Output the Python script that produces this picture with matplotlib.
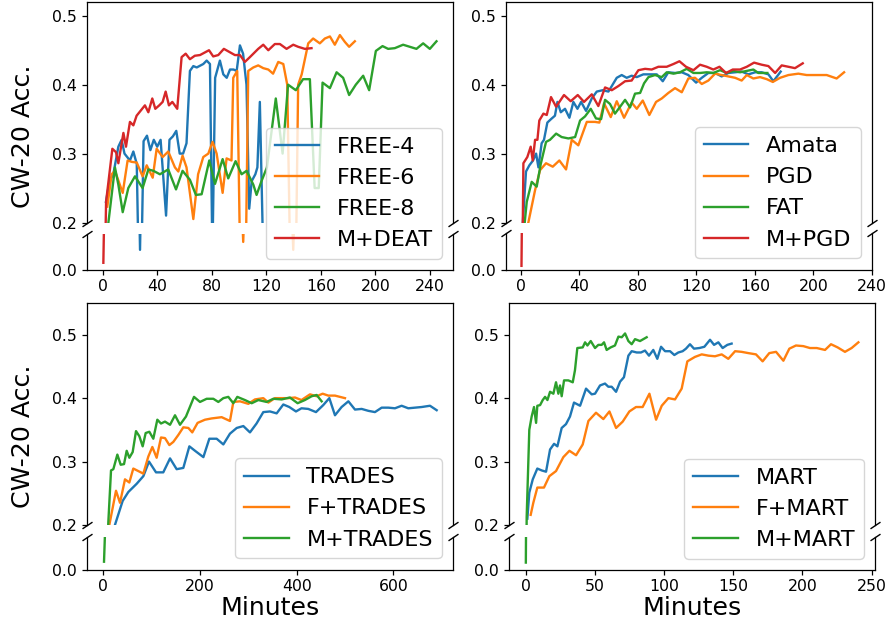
import matplotlib
matplotlib.use("Agg")
import matplotlib.pyplot as plt

# ---------------- data (minutes, CW-20 accuracy) ----------------
# Panel 1: FREE-m vs M+DEAT
free4_x = [2.4, 5, 7.8, 11.5, 13.9, 16, 18, 20, 22.5, 25, 27.4, 30, 32.5, 35, 37.5, 40, 42.5, 46.5, 49, 51.5, 54, 56.5, 59, 61.5,
           64, 66.5, 69, 73.8, 76.3, 78.7, 80.5, 82.5, 86, 88.5, 91, 93.4, 96, 98.3, 100.7, 103, 105.5, 107.5, 109.3, 112, 113.5, 115.3, 117.8]
free4_y = [0.23, 0.26, 0.27, 0.31, 0.32, 0.30, 0.295, 0.29, 0.303, 0.285, 0.028, 0.318, 0.326, 0.305, 0.32, 0.31, 0.32, 0.21, 0.32, 0.325, 0.333, 0.30, 0.30, 0.315,
           0.42, 0.427, 0.425, 0.43, 0.435, 0.43, 0.15, 0.41, 0.435, 0.415, 0.41, 0.422, 0.422, 0.42, 0.457, 0.445, 0.40, 0.22, 0.26, 0.27, 0.28, 0.375, 0.15]
free6_x = [3.4, 6.6, 9, 14.7, 18.3, 21.3, 25, 29.3, 32.3, 36.7, 39.6, 44, 48.1, 53, 55.5, 58.6, 61.5, 66.5, 70, 73.8, 77.5, 80.6, 83.6, 88, 90.9, 94.5,
           95.8, 98.7, 100.8, 103.1, 105, 106.8, 110.5, 114.1, 117.8, 121.5, 125, 128.8, 132.5, 135.4, 137.5, 139.8, 141.8, 143.4, 146,
           150.8, 154.4, 159.3, 163, 166.7, 170.3, 174, 177.7, 180.8, 185]
free6_y = [0.223, 0.27, 0.275, 0.243, 0.29, 0.288, 0.287, 0.267, 0.283, 0.265, 0.307, 0.295, 0.303, 0.28, 0.274, 0.297, 0.28, 0.205, 0.27, 0.295, 0.30, 0.317, 0.30, 0.243, 0.293, 0.29,
           0.41, 0.42, 0.15, 0.039, 0.15, 0.42, 0.425, 0.428, 0.424, 0.422, 0.416, 0.433, 0.43, 0.40, 0.15, 0.028, 0.15, 0.40, 0.415,
           0.46, 0.467, 0.46, 0.467, 0.47, 0.458, 0.472, 0.462, 0.455, 0.463]
free8_x = [4.2, 9, 11.5, 14.7, 18.8, 23.7, 29.3, 33.5, 37.2, 42, 48.1, 53.8, 58.6, 64, 68.4, 72.6, 78.2, 82.4, 88, 92.1, 97.5, 101.9, 105.6,
           110.5, 112.9, 116.5, 120.5, 127, 132, 136, 141.7, 147, 152, 155.5, 158.5, 161.3, 166.7, 171.6, 176.4, 180.8, 185.7, 191.1, 195.5,
           200.4, 205.3, 209.4, 214.3, 220.4, 225.3, 230.2, 235.1, 240, 244.9]
free8_y = [0.2, 0.28, 0.255, 0.215, 0.25, 0.267, 0.25, 0.277, 0.275, 0.27, 0.277, 0.248, 0.275, 0.262, 0.24, 0.241, 0.29, 0.256, 0.292, 0.264, 0.289, 0.27, 0.275,
           0.255, 0.24, 0.26, 0.28, 0.38, 0.30, 0.40, 0.392, 0.408, 0.408, 0.25, 0.25, 0.403, 0.395, 0.418, 0.41, 0.385, 0.40, 0.413, 0.392,
           0.449, 0.456, 0.452, 0.453, 0.458, 0.455, 0.452, 0.46, 0.452, 0.463]
mdeat_x = [0.5, 2.5, 7.1, 9.8, 11.5, 15.2, 17.1, 20, 22.5, 24.9, 31, 33.5, 36.4, 38.6, 41.5, 44, 46.2, 48.6, 51.1, 54.7, 57.9, 60.9, 64, 67.6,
           71.4, 78, 81.1, 84.8, 88.9, 93.4, 97, 100.7, 104.3, 108, 114.1, 117.8, 121.5, 126.3, 130, 134.9, 139.8, 143.4, 148.3, 153.2]
mdeat_y = [0.01, 0.23, 0.307, 0.302, 0.286, 0.33, 0.31, 0.346, 0.341, 0.355, 0.37, 0.36, 0.38, 0.365, 0.37, 0.375, 0.39, 0.37, 0.375, 0.365, 0.44, 0.445, 0.437, 0.442,
           0.443, 0.45, 0.441, 0.443, 0.452, 0.447, 0.443, 0.443, 0.433, 0.44, 0.452, 0.458, 0.45, 0.459, 0.459, 0.452, 0.458, 0.455, 0.452, 0.453]

# Panel 2: Amata / PGD / FAT / M+PGD
amata_x = [1.2, 3.4, 5.7, 8.2, 10.3, 11.9, 14.1, 15.7, 18, 20.5, 23.2, 24.9, 27.2, 30.1, 33.1, 35.8, 38.6, 41.1, 44.5, 48.4, 51.8, 55.9, 59.8,
           62.1, 65.5, 68.9, 72.3, 75.7, 79.2, 83.7, 88.3, 92.9, 97, 100.8, 105.4, 110, 114.5, 119.8, 123.7, 128.2, 132.8, 137.3, 141.9,
           146.5, 151, 155.6, 160.2, 164.7, 169.3, 172.7, 177.7]
amata_y = [0.2, 0.274, 0.283, 0.29, 0.30, 0.28, 0.315, 0.32, 0.345, 0.35, 0.355, 0.375, 0.36, 0.365, 0.352, 0.375, 0.365, 0.375, 0.362, 0.38, 0.39, 0.392, 0.39,
           0.398, 0.41, 0.414, 0.41, 0.413, 0.411, 0.415, 0.415, 0.415, 0.405, 0.418, 0.417, 0.418, 0.414, 0.403, 0.41, 0.417, 0.417, 0.412, 0.417,
           0.418, 0.419, 0.415, 0.418, 0.418, 0.415, 0.405, 0.419]
pgd_x = [5, 9.6, 13, 17.1, 21.7, 26.2, 30.8, 34.7, 39.2, 45, 50.6, 53.6, 56.8, 61.4, 65.5, 70.5, 75.7, 79.2, 83.3, 87.8, 92.4, 96.3, 100.8,
         105.4, 110, 114.5, 119.1, 123.7, 128.2, 132.8, 137.3, 141.9, 146.5, 151, 154.5, 159, 163.6, 168.2, 172.3, 177.3, 183, 189.8,
         195.5, 202.4, 209.2, 216, 221.1]
pgd_y = [0.2, 0.247, 0.276, 0.286, 0.281, 0.29, 0.277, 0.32, 0.312, 0.346, 0.346, 0.345, 0.373, 0.353, 0.376, 0.352, 0.374, 0.365, 0.377, 0.356, 0.375, 0.38, 0.388,
         0.395, 0.389, 0.409, 0.41, 0.401, 0.406, 0.416, 0.414, 0.412, 0.41, 0.406, 0.414, 0.409, 0.411, 0.408, 0.404, 0.41, 0.414, 0.416,
         0.414, 0.414, 0.414, 0.409, 0.418]
fat_x = [2.5, 3.9, 7.3, 10.7, 13.5, 17.1, 19.8, 24, 27.8, 32.4, 37, 40.4, 43.8, 47.7, 51.3, 54.8, 57.5, 60.9, 64.3, 67.8, 71.2, 74.6, 78,
         81.5, 84.2, 87.2, 91.7, 96.3, 99.7, 104.3, 108.8, 113.4, 118, 122.5, 127.1, 131.6, 136.2, 140.8, 145.3, 149.9, 154.5, 159,
         162.4, 168.6]
fat_y = [0.2, 0.23, 0.259, 0.252, 0.285, 0.317, 0.32, 0.329, 0.324, 0.322, 0.324, 0.348, 0.354, 0.365, 0.351, 0.35, 0.378, 0.372, 0.358, 0.368, 0.378, 0.367, 0.387,
         0.388, 0.402, 0.411, 0.414, 0.411, 0.418, 0.416, 0.418, 0.423, 0.417, 0.417, 0.418, 0.417, 0.421, 0.417, 0.42, 0.418, 0.42, 0.422,
         0.417, 0.417]
mpgd_x = [0.3, 1.6, 4.3, 6.6, 8, 9.6, 11.2, 12.5, 15.3, 17.6, 20.5, 24, 29.4, 34, 38.8, 43.1, 48.4, 52.9, 57.5, 62.1, 66.6, 71.2, 75.7,
          80.3, 84.9, 89.4, 94, 99.7, 104.3, 108.4, 112.9, 118, 122.5, 127.1, 131.6, 135.8, 140.3, 144.9, 149.9, 154.5, 159.5, 164.7,
          169.3, 173.9, 178.4, 183, 187.5, 192.8]
mpgd_y = [0.005, 0.286, 0.295, 0.31, 0.29, 0.32, 0.32, 0.348, 0.358, 0.356, 0.382, 0.368, 0.385, 0.376, 0.385, 0.375, 0.386, 0.369, 0.396, 0.392, 0.398, 0.405, 0.406,
          0.421, 0.423, 0.422, 0.426, 0.426, 0.43, 0.434, 0.426, 0.421, 0.429, 0.426, 0.422, 0.426, 0.417, 0.422, 0.422, 0.426, 0.432, 0.429,
          0.427, 0.417, 0.428, 0.426, 0.424, 0.431]

# Panel 3: TRADES / F+TRADES / M+TRADES
trades_x = [24, 40, 51.7, 69, 82.8, 94.5, 109, 124, 138, 151.7, 165.5, 178, 189.7, 207, 219.3, 234.5, 248.3, 262, 276, 289.7, 303.4, 317,
            331, 344.8, 358.6, 372.4, 384.8, 398.6, 410, 424, 440, 455, 467.6, 479.3, 493, 507, 520.7, 534.5, 548.3, 562, 575.9, 589.7,
            603.4, 617.2, 631, 644.8, 658.6, 675.9, 689.7]
trades_y = [0.2, 0.238, 0.252, 0.265, 0.277, 0.30, 0.283, 0.283, 0.305, 0.288, 0.29, 0.324, 0.317, 0.307, 0.336, 0.336, 0.327, 0.344, 0.353, 0.356, 0.346, 0.36,
            0.378, 0.379, 0.376, 0.39, 0.386, 0.379, 0.384, 0.383, 0.378, 0.389, 0.40, 0.373, 0.386, 0.395, 0.382, 0.383, 0.38, 0.378, 0.385, 0.385,
            0.384, 0.388, 0.384, 0.385, 0.386, 0.388, 0.381]
ftrades_x = [12.4, 26.2, 34.5, 44.8, 53.8, 62, 72.4, 82.8, 93.1, 101.4, 110.3, 119.3, 127.6, 136.6, 144.8, 155.2, 165.5, 175.9, 184, 195,
             210.3, 224, 244.8, 262, 269, 282.8, 300, 313.8, 331, 341.4, 355, 369, 382.8, 396.6, 410, 427.6, 441.4, 453.8, 465.5, 479.3, 500]
ftrades_y = [0.2, 0.254, 0.235, 0.272, 0.267, 0.289, 0.285, 0.281, 0.308, 0.323, 0.306, 0.338, 0.337, 0.326, 0.331, 0.342, 0.354, 0.353, 0.346, 0.361,
             0.366, 0.368, 0.37, 0.364, 0.394, 0.395, 0.391, 0.398, 0.40, 0.393, 0.40, 0.40, 0.40, 0.401, 0.397, 0.406, 0.403, 0.407, 0.404, 0.404, 0.40]
mtrades_x = [1.4, 10.3, 15.9, 20.7, 29, 35.9, 42.8, 48.3, 53.8, 60.7, 67.6, 74.5, 81.4, 87.6, 95.2, 103.4, 111.7, 119.3, 127.6, 138, 148.3,
             158.6, 171, 187.6, 200, 213.8, 227.6, 237.9, 248.3, 258.6, 269, 277.2, 293, 307, 320.7, 338, 351.7, 369, 386, 402, 417, 431,
             441.4, 451.7]
mtrades_y = [0.012, 0.204, 0.286, 0.288, 0.311, 0.295, 0.296, 0.317, 0.306, 0.315, 0.348, 0.34, 0.324, 0.345, 0.347, 0.336, 0.366, 0.36, 0.363, 0.358, 0.373,
             0.358, 0.371, 0.402, 0.394, 0.399, 0.399, 0.394, 0.40, 0.402, 0.392, 0.402, 0.397, 0.392, 0.397, 0.394, 0.399, 0.398, 0.401, 0.392, 0.397, 0.403,
             0.405, 0.395]

# Panel 4: MART / F+MART / M+MART
mart_x = [1.2, 2.6, 5.1, 8.4, 11.6, 14.7, 17.6, 20.5, 22.9, 26, 29.1, 32, 34.9, 39.3, 43.6, 47.7, 50.1, 53.7, 57.3, 59.7, 62.1, 65.3, 68.2,
          71, 74.2, 76.6, 80.2, 83.3, 86.2, 89.1, 92.2, 95.1, 97.8, 100.7, 104.3, 107.4, 110.3, 113.4, 115.8, 118.7, 121.6, 125.5, 129.1,
          133.2, 136.1, 139.2, 142.3, 145.7, 148.8]
mart_y = [0.21, 0.251, 0.272, 0.289, 0.286, 0.284, 0.319, 0.328, 0.324, 0.353, 0.359, 0.371, 0.393, 0.388, 0.415, 0.406, 0.407, 0.42, 0.423, 0.418, 0.418, 0.41, 0.426,
          0.433, 0.467, 0.474, 0.472, 0.472, 0.475, 0.467, 0.476, 0.462, 0.481, 0.474, 0.474, 0.468, 0.472, 0.474, 0.478, 0.485, 0.478, 0.479, 0.481,
          0.492, 0.484, 0.488, 0.479, 0.484, 0.486]
fmart_x = [3.6, 5.5, 8.4, 13.2, 17.1, 21.9, 27.2, 31.6, 36.4, 41.2, 45.3, 50.8, 56.1, 60.5, 65.3, 70.1, 74.9, 79.7, 84.5, 89.4, 94.2, 98.3,
           103.1, 107.9, 112.7, 116.8, 122.3, 127.2, 132, 136.8, 141.6, 146.4, 151.3, 156, 160.9, 166.4, 171.2, 176, 180.9, 186.2, 190.5,
           195.3, 200.6, 205.4, 210.3, 216.3, 220.6, 225.4, 230.7, 235.5, 240.4]
fmart_y = [0.216, 0.235, 0.259, 0.259, 0.277, 0.285, 0.307, 0.317, 0.31, 0.327, 0.364, 0.377, 0.367, 0.379, 0.353, 0.363, 0.379, 0.386, 0.386, 0.407, 0.366, 0.388,
           0.40, 0.398, 0.415, 0.458, 0.465, 0.469, 0.467, 0.466, 0.469, 0.462, 0.474, 0.473, 0.471, 0.469, 0.458, 0.471, 0.473, 0.459, 0.478,
           0.483, 0.482, 0.479, 0.479, 0.476, 0.485, 0.48, 0.473, 0.479, 0.488]
mmart_x = [0.1, 0.7, 2.6, 4.3, 6, 7.5, 8.4, 10.4, 12.3, 14, 15.7, 17.6, 20, 21.9, 23.6, 24.8, 26, 27.7, 30.8, 34, 35.6, 37.3, 41.2, 42.9,
           44.6, 47, 50.1, 52.5, 54.9, 56.6, 58.5, 61.4, 64.5, 67, 69.4, 71.8, 74.2, 76.6, 79, 82.6, 87.4]
mmart_y = [0.011, 0.2125, 0.35, 0.371, 0.386, 0.361, 0.388, 0.389, 0.397, 0.402, 0.397, 0.41, 0.407, 0.425, 0.407, 0.42, 0.403, 0.428, 0.428, 0.425, 0.444, 0.479, 0.48, 0.488,
           0.483, 0.49, 0.479, 0.484, 0.484, 0.488, 0.476, 0.48, 0.483, 0.497, 0.496, 0.502, 0.49, 0.485, 0.493, 0.49, 0.496]

W, H = 889, 623
C = ['#1f77b4', '#ff7f0e', '#2ca02c', '#d62728']

panels = [
    dict(px=(87, 453), up=(2, 222.5), lo=(234, 270), ylim=(0.2, 0.52), xlim=(-11.5, 257), xt=[0, 40, 80, 120, 160, 200, 240],
         series=[(free4_x, free4_y, 'FREE-4'), (free6_x, free6_y, 'FREE-6'), (free8_x, free8_y, 'FREE-8'), (mdeat_x, mdeat_y, 'M+DEAT')],
         ylabel=True, xlabel=False),
    dict(px=(506, 871.7), up=(2, 222.5), lo=(233, 269.5), ylim=(0.2, 0.52), xlim=(-10.3, 240), xt=[0, 40, 80, 120, 160, 200, 240],
         series=[(amata_x, amata_y, 'Amata'), (pgd_x, pgd_y, 'PGD'), (fat_x, fat_y, 'FAT'), (mpgd_x, mpgd_y, 'M+PGD')],
         ylabel=False, xlabel=False),
    dict(px=(87, 453), up=(303, 525), lo=(537, 569.5), ylim=(0.2, 0.55), xlim=(-33.8, 723.5), xt=[0, 200, 400, 600],
         series=[(trades_x, trades_y, 'TRADES'), (ftrades_x, ftrades_y, 'F+TRADES'), (mtrades_x, mtrades_y, 'M+TRADES')],
         ylabel=True, xlabel=True),
    dict(px=(509.3, 875), up=(303, 525), lo=(537, 569.8), ylim=(0.2, 0.55), xlim=(-11.85, 252.4), xt=[0, 50, 100, 150, 200, 250],
         series=[(mart_x, mart_y, 'MART'), (fmart_x, fmart_y, 'F+MART'), (mmart_x, mmart_y, 'M+MART')],
         ylabel=False, xlabel=True),
]

fig = plt.figure(figsize=(W / 100, H / 100), dpi=100)

TICK_FS = 11.3
LAB_FS = 18.2
LEG_FS = 16
LW = 1.7


def rect(x0, x1, y0, y1):
    return [x0 / W, 1 - y1 / H, (x1 - x0) / W, (y1 - y0) / H]


for p in panels:
    x0, x1 = p['px']
    axu = fig.add_axes(rect(x0, x1, *p['up']))
    axl = fig.add_axes(rect(x0, x1, *p['lo']))
    handles = []
    for i, (xs, ys, lab) in enumerate(p['series']):
        axu.plot(xs, ys, color=C[i], lw=LW)
        h, = axl.plot(xs, ys, color=C[i], lw=LW, label=lab)
        handles.append(h)
    axu.set_ylim(*p['ylim'])
    axl.set_ylim(0, 0.05)
    for a in (axu, axl):
        a.set_xlim(*p['xlim'])
        a.set_xticks(p['xt'])
        a.tick_params(labelsize=TICK_FS, length=3.8, width=0.9)
        for s in a.spines.values():
            s.set_linewidth(0.9)
    axu.set_yticks([0.2, 0.3, 0.4, 0.5])
    axu.set_yticklabels(['0.2', '0.3', '0.4', '0.5'])
    axl.set_yticks([0.0])
    axl.set_yticklabels(['0.0'])
    axl.tick_params(axis='x', pad=3.0)
    axu.spines['bottom'].set_visible(False)
    axl.spines['top'].set_visible(False)
    axu.tick_params(axis='x', bottom=False, labelbottom=False)

    d = 0.67
    kw = dict(marker=[(-1, -d), (1, d)], markersize=7.2, linestyle='none', color='k', mec='k', mew=1, clip_on=False)
    axu.plot([0, 1], [0, 0], transform=axu.transAxes, **kw)
    axl.plot([0, 1], [1, 1], transform=axl.transAxes, **kw)

    axl.legend(handles=handles, loc='lower right', fontsize=LEG_FS)

    cx = (x0 + x1) / 2
    if p['ylabel']:
        yc = (p['up'][0] + p['lo'][1]) / 2
        fig.text(23 / W, 1 - yc / H, 'CW-20 Acc.', rotation=90, ha='center', va='center', fontsize=LAB_FS)
    if p['xlabel']:
        fig.text(cx / W, 1 - 615 / H, 'Minutes', ha='center', va='baseline', fontsize=LAB_FS)

fig.savefig('out.png', dpi=100)
